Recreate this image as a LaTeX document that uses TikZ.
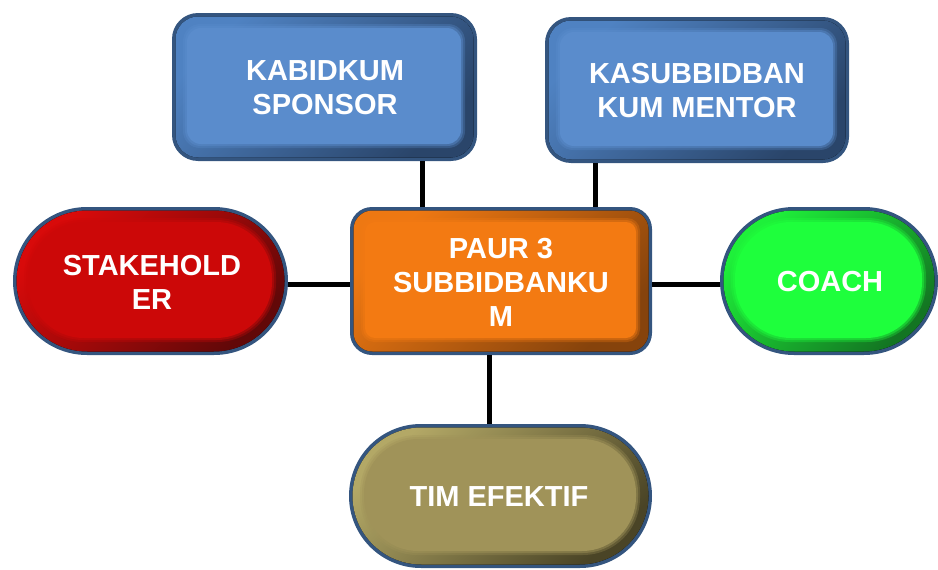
\documentclass[tikz,border=0pt]{standalone}
\usepackage{fontspec}
\setmainfont{Liberation Sans}
\definecolor{edge}{HTML}{34557F}
\definecolor{blueface}{HTML}{5A8CCC}
\definecolor{bluelite}{HTML}{4F82C2}
\definecolor{bluedark}{HTML}{2A456A}
\definecolor{orangeface}{HTML}{F37A12}
\definecolor{orangelite}{HTML}{EE7812}
\definecolor{orangedark}{HTML}{86430C}
\definecolor{redface}{HTML}{CC0808}
\definecolor{redlite}{HTML}{D80A0A}
\definecolor{reddark}{HTML}{620808}
\definecolor{greenface}{HTML}{1EFF3C}
\definecolor{greenlite}{HTML}{1EF03A}
\definecolor{greendark}{HTML}{137522}
\definecolor{oliveface}{HTML}{A09359}
\definecolor{olivelite}{HTML}{B3A866}
\definecolor{olivedark}{HTML}{4A4426}
% Bevelled box: name, centre x, centre y, width, height, outer radius, face radius, colour prefix
\newcommand\bevelshape[8]{%
  \node[outer, minimum width=#4pt, minimum height=#5pt, rounded corners=#6pt] (#1) at (#2,#3) {};
  \fill[rounded corners=#6pt-3pt, top color=#8lite, bottom color=#8dark, shading angle=45]
    ([shift={(3.5,3.5)}]#1.north west) rectangle ([shift={(-3.5,-3.5)}]#1.south east);
  % soft step from the rim into the face
  \fill[#8face, opacity=0.3, rounded corners=#7pt+3pt]
    ([shift={(11,11)}]#1.north west) rectangle ([shift={(-12,-13)}]#1.south east);
  \fill[#8face, opacity=0.45, rounded corners=#7pt+1.5pt]
    ([shift={(13,13)}]#1.north west) rectangle ([shift={(-14,-15)}]#1.south east);
  \fill[#8face, rounded corners=#7pt]
    ([shift={(15,15)}]#1.north west) rectangle ([shift={(-16,-17)}]#1.south east);
}
\begin{document}
\begin{tikzpicture}[x=1pt,y=-1pt,
  outer/.style={draw=none, fill=edge, inner sep=0pt, outer sep=0pt},
  boxtext/.style={text=white, font=\bfseries\fontsize{29}{34}\selectfont, align=center, inner sep=0pt},
  conn/.style={line width=5pt, black}]
\useasboundingbox (0,0) rectangle (938,570);

% boxes
\bevelshape{kab}{324.5}{87}{305}{148}{26}{14}{blue}
\bevelshape{kas}{697}{90}{304}{146}{26}{14}{blue}
\bevelshape{paur}{501}{281}{302}{148}{22}{10}{orange}
\bevelshape{stake}{150.5}{281}{275}{148}{74}{56}{red}
\bevelshape{coach}{829}{281}{218}{148}{74}{56}{green}
\bevelshape{tim}{500.5}{496}{303}{144}{72}{54}{olive}

% connectors
\coordinate (xa) at (422,0);
\coordinate (xb) at (595,0);
\coordinate (xc) at (489,0);
\coordinate (ya) at (0,284);
\draw[conn] (kab.south -| xa) -- (paur.north -| xa);
\draw[conn] (kas.south -| xb) -- (paur.north -| xb);
\draw[conn] (stake.east |- ya) -- (paur.west |- ya);
\draw[conn] (paur.east |- ya) -- (coach.west |- ya);
\draw[conn] (paur.south -| xc) -- (tim.north -| xc);

% labels
\node[boxtext] (kabt) at (325,88) {KABIDKUM\\SPONSOR};
\node[boxtext] (kast) at (697,91) {KASUBBIDBAN\\KUM MENTOR};
\node[boxtext] (paurt) at (501,282) {PAUR 3\\SUBBIDBANKU\\M};
\node[boxtext] (staket) at (152,282) {STAKEHOLD\\ER};
\node[boxtext] (coacht) at (830,282) {COACH};
\node[boxtext] (timt) at (499,497) {TIM EFEKTIF};
\end{tikzpicture}
\end{document}
